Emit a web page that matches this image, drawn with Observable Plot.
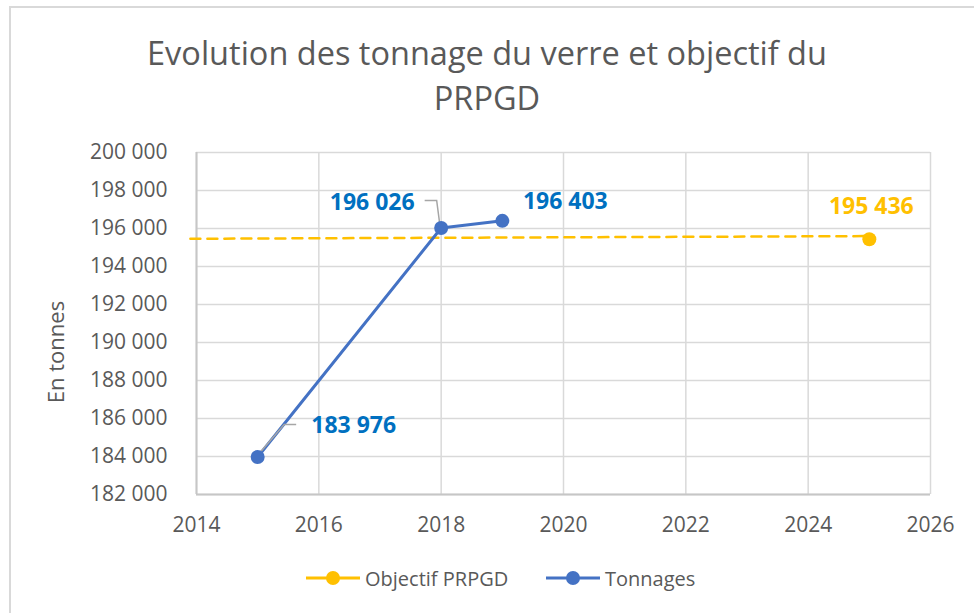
<!DOCTYPE html>
<html><head><meta charset="utf-8">
<script src="https://cdn.jsdelivr.net/npm/d3@7"></script>
<script src="https://cdn.jsdelivr.net/npm/@observablehq/plot@0.6"></script>
<style>
body{margin:0;background:#fff;font-family:"Open Sans",sans-serif;}
#wrap{position:relative;width:974px;height:613px;overflow:hidden;background:#fff}
#frame{position:absolute;left:9px;top:6px;width:1000px;height:700px;border-left:2px solid #d9d9d9;border-top:2px solid #d9d9d9}
#title{position:absolute;left:0;top:30px;width:974px;text-align:center;font-size:32.5px;line-height:45px;color:#595959;white-space:nowrap}
#chart{position:absolute;left:0;top:130px}
#overlay{position:absolute;left:0;top:0}
</style></head><body>
<div id="wrap">
  <div id="frame"></div>
  <div id="title">Evolution des tonnage du verre et objectif du<br>PRPGD</div>
  <div id="chart"></div>
  <svg id="overlay" width="974" height="613"></svg>
</div>
<script>
// ---- data ----
const years = [2015, 2018, 2019];
const tonnages = [183976, 196026, 196403];
const objectifYear = [2025];
const objectifValue = [195436];
const trendYears = [2013.9, 2025];
const trendValues = [195460, 195600];
const xTicks = [2014, 2016, 2018, 2020, 2022, 2024, 2026];
const yTicks = [182000, 184000, 186000, 188000, 190000, 192000, 194000, 196000, 198000, 200000];
const seriesNames = ["Objectif PRPGD", "Tonnages"];
const yLabel = "En tonnes";

const BLUE = "#4472C4", LBLUE = "#0070C0", YEL = "#FFC000", GREY = "#595959";
const fmt = d3.formatLocale({thousands: "\u00a0", grouping: [3], decimal: ",", currency: ["", "€"]}).format(",d");

const ton = years.map((y, i) => ({x: y, v: tonnages[i]}));
const obj = objectifYear.map((y, i) => ({x: y, v: objectifValue[i]}));
const trend = trendYears.map((y, i) => ({x: y, v: trendValues[i]}));

// leader lines, offsets in pixels from the data point
const leaderDefs = [
  {i: 0, path: [[39, -32], [27, -32], [2, -3]]},
  {i: 1, path: [[-16, -27], [-4, -27], [-1, -4]]}
];
function leaders(index, scales) {
  const g = d3.create("svg:g");
  for (const L of leaderDefs) {
    const px = scales.x(years[L.i]), py = scales.y(tonnages[L.i]);
    g.append("path")
      .attr("d", d3.line()(L.path.map(([dx, dy]) => [px + dx, py + dy])))
      .attr("fill", "none").attr("stroke", "#a6a6a6").attr("stroke-width", 1.5);
  }
  return g.node();
}

const labelText = (data, idx, color, dx, dy) => Plot.text([data[idx]], {
  x: "x", y: "v", text: d => fmt(d.v), dx, dy, fill: color,
  fontWeight: "bold", fontSize: 23, textAnchor: "middle"
});

const chart = Plot.plot({
  width: 974, height: 410,
  marginLeft: 196, marginRight: 44, marginTop: 22, marginBottom: 46,
  style: {fontFamily: '"Open Sans", sans-serif', fontSize: "21px", color: GREY, background: "transparent", overflow: "visible"},
  x: {domain: [2014, 2026]},
  y: {domain: [182000, 200000]},
  marks: [
    Plot.gridX(xTicks, {stroke: "#d9d9d9", strokeOpacity: 1, strokeWidth: 1.5}),
    Plot.gridY(yTicks, {stroke: "#d9d9d9", strokeOpacity: 1, strokeWidth: 1.5}),
    Plot.ruleX([xTicks[0]], {stroke: "#c6c6c6", strokeWidth: 2}),
    Plot.ruleY([yTicks[0]], {stroke: "#c6c6c6", strokeWidth: 2}),
    Plot.axisX(xTicks, {tickSize: 0, tickPadding: 23, tickFormat: d => String(d), label: null, fontSize: 21, fill: GREY}),
    Plot.axisY(yTicks, {tickSize: 0, tickPadding: 29, tickFormat: fmt, label: null, fontSize: 21, fill: GREY}),
    Plot.line(trend, {x: "x", y: "v", stroke: YEL, strokeWidth: 2.5, strokeDasharray: "10,7"}),
    Plot.line(ton, {x: "x", y: "v", stroke: BLUE, strokeWidth: 3}),
    leaders,
    Plot.dot(ton, {x: "x", y: "v", r: 7, fill: BLUE}),
    Plot.dot(obj, {x: "x", y: "v", r: 7, fill: YEL}),
    labelText(ton, 0, LBLUE, 96, -31),
    labelText(ton, 1, LBLUE, -69, -25),
    labelText(ton, 2, LBLUE, 63, -19),
    labelText(obj, 0, YEL, 2, -33)
  ]
});
document.getElementById("chart").appendChild(chart);

// y label and legend
const ov = d3.select("#overlay");
ov.append("text").attr("transform", "translate(55,352) rotate(-90)")
  .attr("text-anchor", "middle").attr("dominant-baseline", "central")
  .attr("font-size", 22).attr("fill", GREY).text(yLabel);
const legendItems = [
  {name: seriesNames[0], color: YEL, x0: 306},
  {name: seriesNames[1], color: BLUE, x0: 546}
];
for (const it of legendItems) {
  const g = ov.append("g");
  g.append("line").attr("x1", it.x0).attr("x2", it.x0 + 54).attr("y1", 578).attr("y2", 578)
    .attr("stroke", it.color).attr("stroke-width", 3);
  g.append("circle").attr("cx", it.x0 + 27).attr("cy", 578).attr("r", 7).attr("fill", it.color);
  g.append("text").attr("x", it.x0 + 59).attr("y", 578).attr("dominant-baseline", "central")
    .attr("font-size", 20).attr("fill", GREY).text(it.name);
}
</script>
</body></html>
